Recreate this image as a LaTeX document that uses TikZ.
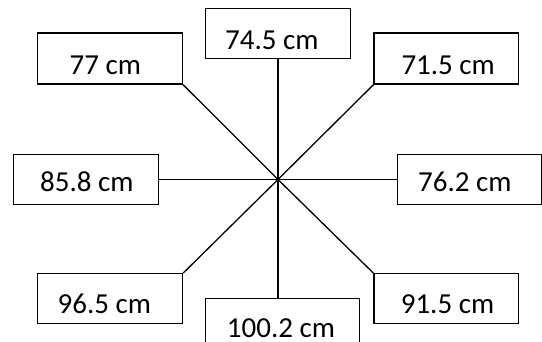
\documentclass[tikz,border=0pt]{standalone}
\usepackage{fontspec}
\setmainfont{Carlito}
\begin{document}
\begin{tikzpicture}[x=1pt,y=1pt,
  box/.style={draw=black, line width=1.3pt, rectangle, minimum width=145pt, minimum height=50pt, inner sep=0pt},
  lbl/.style={anchor=base west, inner sep=0pt, font=\fontsize{29}{31}\selectfont},
  spoke/.style={line width=1.3pt}]
\clip (0,0) rectangle (542,342);
\fill[white] (0,0) rectangle (542,342);

% centre point where all spokes meet
\coordinate (c) at (278,162.5);

% boxes
\node[box, minimum height=51pt] (tl) at (110,283.4) {};
\node[box] (t) at (278,308.6) {};
\node[box, minimum width=144.5pt, minimum height=51pt] (tr) at (446.3,283.4) {};
\node[box, minimum width=144.5pt] (l) at (86,162.5) {};
\node[box, minimum width=144pt] (r) at (469.5,162.5) {};
\node[box] (bl) at (110,43.2) {};
\node[box, minimum width=154pt] (b) at (282.5,18.6) {};
\node[box, minimum width=144.5pt] (br) at (446.3,43.2) {};

% spokes
\draw[spoke] (c) -- (tl.south east);
\draw[spoke] (c) -- (c |- t.south);
\draw[spoke] (c) -- (tr.south west);
\draw[spoke] (c) -- (l.east);
\draw[spoke] (c) -- (r.west);
\draw[spoke] (c) -- (bl.north east);
\draw[spoke] (c) -- (c |- b.north);
\draw[spoke] (c) -- (br.north west);

% labels
\node[lbl] (ttl) at (69.5,267.7) {77 cm};
\node[lbl] (tt) at (225,292) {74.5 cm};
\node[lbl] (ttr) at (401.3,267.7) {71.5 cm};
\begin{scope}
  \clip (0,149.4) rectangle (542,342);
  \node[lbl] (tl2) at (40,150.1) {85.8 cm};
  \node[lbl] (tr2) at (418,150.1) {76.2 cm};
\end{scope}
\node[lbl] (tbl) at (57.4,28) {96.5 cm};
\node[lbl] (tb) at (226.7,4.5) {100.2 cm};
\node[lbl] (tbr) at (400.6,28) {91.5 cm};
\end{tikzpicture}
\end{document}
